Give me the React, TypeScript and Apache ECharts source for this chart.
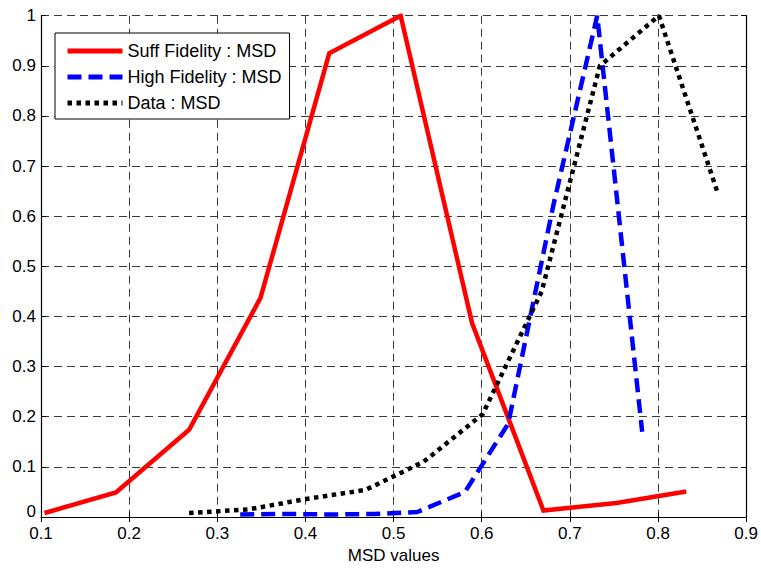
import React, { useEffect, useRef } from "react";
import * as echarts from "echarts";

const xTicks = [0.1, 0.2, 0.3, 0.4, 0.5, 0.6, 0.7, 0.8, 0.9];
const yTicks = [0, 0.1, 0.2, 0.3, 0.4, 0.5, 0.6, 0.7, 0.8, 0.9, 1];

const seriesNames = ["Suff Fidelity : MSD", "High Fidelity : MSD", "Data : MSD"];

const xSuff = [0.104, 0.185, 0.268, 0.349, 0.427, 0.508, 0.589, 0.670, 0.753, 0.832];
const ySuff = [0.008, 0.049, 0.174, 0.437, 0.925, 1.0, 0.387, 0.013, 0.028, 0.051];

const xHigh = [0.326, 0.377, 0.427, 0.478, 0.527, 0.581, 0.630, 0.681, 0.731, 0.782];
const yHigh = [0.005, 0.006, 0.005, 0.006, 0.01, 0.05, 0.186, 0.62, 1.0, 0.17];

const xData = [0.268, 0.335, 0.401, 0.468, 0.534, 0.601, 0.668, 0.734, 0.801, 0.867];
const yData = [0.008, 0.015, 0.036, 0.054, 0.11, 0.205, 0.45, 0.9, 1.0, 0.65];

const FONT = "'Liberation Sans', Arial, sans-serif";

const pairs = (xs: number[], ys: number[]) => xs.map((x, i) => [x, ys[i]]);
const fmt = (v: number) => String(+v.toFixed(1));

export default function App() {
  const ref = useRef<HTMLDivElement>(null);
  useEffect(() => {
    if (!ref.current) return;
    const chart = echarts.init(ref.current, null, { renderer: "svg" });
    const gridLine = { show: true, lineStyle: { color: "#3a3a3a", width: 1, type: [8, 5] as any } };
    const axisLine = { show: true, lineStyle: { color: "#000", width: 1.2 } };
    const tick = { show: true, inside: true, length: 5, lineStyle: { color: "#000" } };
    chart.setOption({
      animation: false,
      backgroundColor: "#fff",
      textStyle: { fontFamily: FONT },
      grid: { left: 41, right: 13.5, top: 15.7, bottom: 48.3, containLabel: false },
      legend: {
        left: 55,
        top: 33,
        orient: "vertical",
        backgroundColor: "#fff",
        borderColor: "#000",
        borderWidth: 1,
        borderRadius: 0,
        padding: [9, 8, 7, 10],
        itemWidth: 55,
        itemHeight: 14,
        itemGap: 8,
        data: seriesNames,
        itemStyle: { color: "transparent", borderWidth: 0, opacity: 0 },
        lineStyle: { width: 5 },
        textStyle: { fontFamily: FONT, fontSize: 18, color: "#000", lineHeight: 17.5 },
      },
      xAxis: [
        {
          type: "value",
          min: 0.1,
          max: 0.9,
          interval: 0.1,
          position: "bottom",
          name: "MSD values",
          nameLocation: "middle",
          nameGap: 30,
          nameTextStyle: { fontFamily: FONT, fontSize: 17, color: "#000" },
          axisLine,
          axisTick: tick,
          axisLabel: { fontFamily: FONT, fontSize: 17, lineHeight: 14, color: "#000", margin: 9, formatter: fmt },
          splitLine: gridLine,
        },
        {
          type: "value",
          min: 0.1,
          max: 0.9,
          interval: 0.1,
          position: "top",
          axisLine,
          axisTick: tick,
          axisLabel: { show: false },
          splitLine: { show: false },
        },
      ],
      yAxis: [
        {
          type: "value",
          min: 0,
          max: 1,
          interval: 0.1,
          position: "left",
          axisLine,
          axisTick: tick,
          axisLabel: {
            fontFamily: FONT,
            fontSize: 17,
            lineHeight: 12,
            color: "#000",
            margin: 5,
            formatter: fmt,
            verticalAlignMinLabel: "bottom",
          },
          splitLine: gridLine,
        },
        {
          type: "value",
          min: 0,
          max: 1,
          interval: 0.1,
          position: "right",
          axisLine,
          axisTick: tick,
          axisLabel: { show: false },
          splitLine: { show: false },
        },
      ],
      series: [
        {
          name: seriesNames[0],
          type: "line",
          data: pairs(xSuff, ySuff),
          symbol: "none",
          color: "#ff0000",
          lineStyle: { color: "#ff0000", width: 4.5, type: "solid", join: "miter" },
        },
        {
          name: seriesNames[1],
          type: "line",
          data: pairs(xHigh, yHigh),
          symbol: "none",
          color: "#0000ff",
          lineStyle: { color: "#0000ff", width: 4.5, type: [14, 7], cap: "butt" },
        },
        {
          name: seriesNames[2],
          type: "line",
          data: pairs(xData, yData),
          symbol: "none",
          color: "#000000",
          lineStyle: { color: "#000000", width: 4.5, type: [4.5, 4.5], cap: "butt" },
        },
      ],
    });
    return () => chart.dispose();
  }, []);
  return (
    <div
      ref={ref}
      style={{ position: "fixed", left: 0, top: 0, width: 761, height: 569, background: "#fff" }}
    />
  );
}
